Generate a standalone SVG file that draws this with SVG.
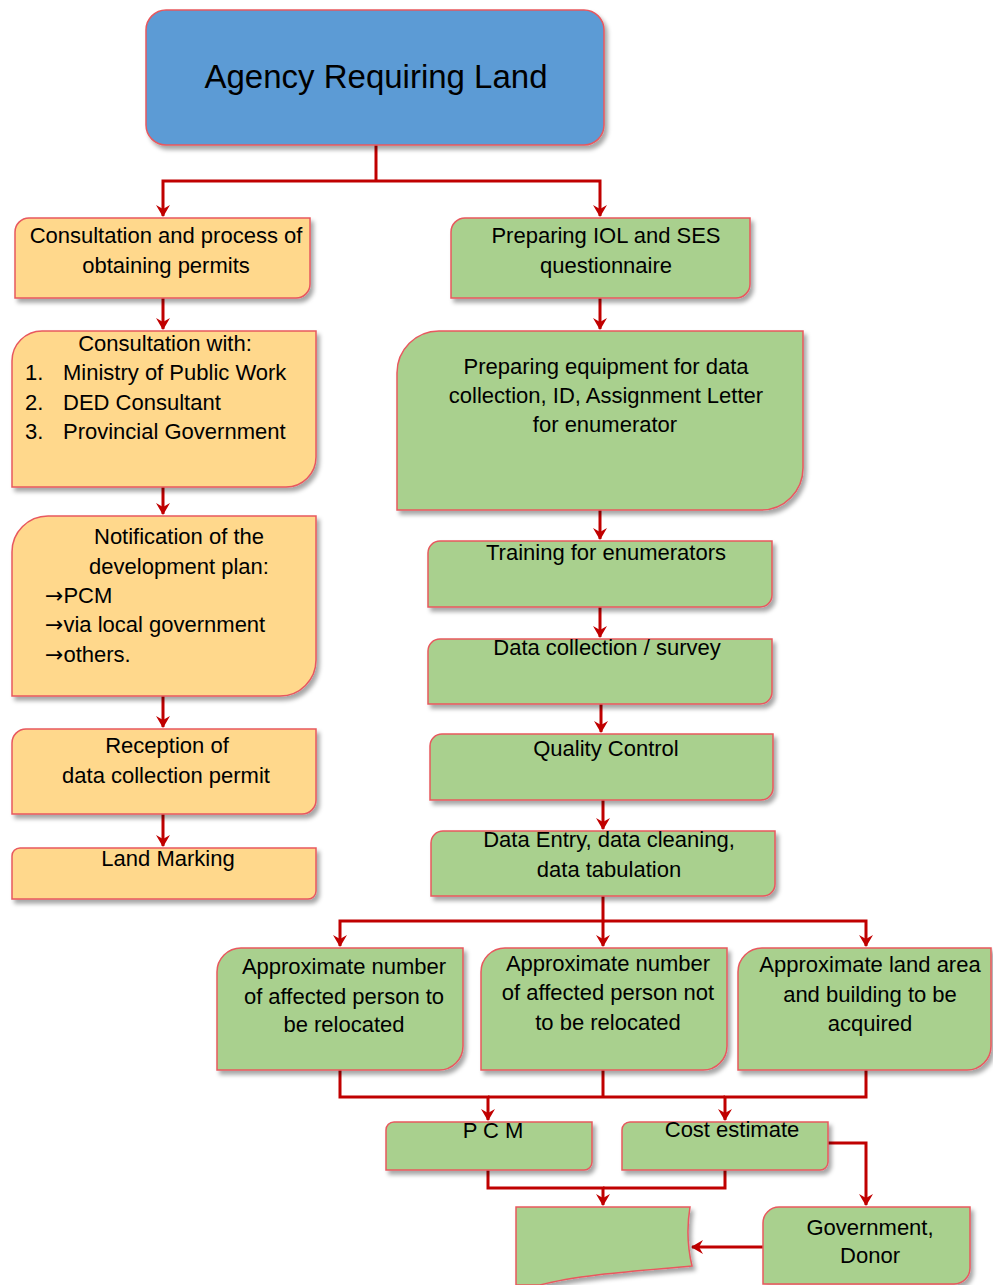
<svg xmlns="http://www.w3.org/2000/svg" width="993" height="1285" viewBox="0 0 993 1285">
<style>
.bx{stroke:#E8585E;stroke-width:1.5;filter:url(#sh)}
.or{fill:#FFD88C}
.gr{fill:#A9D08E}
.bl{fill:#5B9BD5}
text{font-family:"Liberation Sans",Arial,sans-serif;font-size:22px;fill:#000}
.c{text-anchor:middle}
.n{font-size:22px}
.ar{font-family:"DejaVu Sans",sans-serif;font-size:22px}
.cn{stroke:#C00000;stroke-width:3;fill:none}
.a{marker-end:url(#ah)}
</style>
<defs>
<filter id="sh" x="-10%" y="-10%" width="120%" height="130%">
<feDropShadow dx="3" dy="4" stdDeviation="2" flood-color="#000" flood-opacity="0.35"/>
</filter>
<marker id="ah" markerWidth="16" markerHeight="16" refX="11" refY="8" orient="auto" markerUnits="userSpaceOnUse">
<path d="M0,1 L12,8 L0,15 L4,8 z" fill="#C00000"/>
</marker>
</defs>

<g id="connectors">
<path class="cn" d="M376 145 V181"/>
<path class="cn a" d="M376 181 H163 V216"/>
<path class="cn a" d="M376 181 H600 V216"/>
<path class="cn a" d="M163 298 V329"/>
<path class="cn a" d="M163 487 V514"/>
<path class="cn a" d="M163 696 V727"/>
<path class="cn a" d="M163 814 V846"/>
<path class="cn a" d="M600 298 V329"/>
<path class="cn a" d="M600 510 V539"/>
<path class="cn a" d="M600 607 V637"/>
<path class="cn a" d="M601 704 V732"/>
<path class="cn a" d="M603 800 V829"/>
<path class="cn a" d="M603 896 V921 H340 V946"/>
<path class="cn a" d="M603 921 V946"/>
<path class="cn a" d="M603 921 H866 V946"/>
<path class="cn a" d="M340 1070 V1097 H488 V1120"/>
<path class="cn" d="M603 1070 V1097"/>
<path class="cn a" d="M866 1070 V1097 H725 V1120"/>
<path class="cn" d="M488 1097 H725"/>
<path class="cn a" d="M488 1170 V1188 H603 V1205"/>
<path class="cn" d="M725 1170 V1188 H603"/>
<path class="cn a" d="M828 1143 H866 V1205"/>
<path class="cn a" d="M763 1247 H692"/>
</g>

<g id="agency">
<rect class="bx bl" x="146" y="10" width="458" height="135" rx="20"/>
<text class="c" x="376" y="88" style="font-size:33px">Agency Requiring Land</text>
</g>

<g id="consultation-process">
<path class="bx or" d="M29 218 H310 V284 A14 14 0 0 1 296 298 H15 V232 A14 14 0 0 1 29 218 Z"/>
<text class="c" x="166" y="243">Consultation and process of</text>
<text class="c" x="166" y="273">obtaining permits</text>
</g>

<g id="consultation-with">
<path class="bx or" d="M42 331 H316 V457 A30 30 0 0 1 286 487 H12 V361 A30 30 0 0 1 42 331 Z"/>
<text class="c" x="165" y="351">Consultation with:</text>
<text x="25" y="380">1.</text><text x="63" y="380">Ministry of Public Work</text>
<text x="25" y="410">2.</text><text x="63" y="410">DED Consultant</text>
<text x="25" y="439">3.</text><text x="63" y="439">Provincial Government</text>
</g>

<g id="notification">
<path class="bx or" d="M48 516 H316 V660 A36 36 0 0 1 280 696 H12 V552 A36 36 0 0 1 48 516 Z"/>
<text class="c" x="179" y="544">Notification of the</text>
<text class="c" x="179" y="574">development plan:</text>
<text x="45" y="603"><tspan class="ar">→</tspan>PCM</text>
<text x="45" y="632"><tspan class="ar">→</tspan>via local government</text>
<text x="45" y="662"><tspan class="ar">→</tspan>others.</text>
</g>

<g id="reception">
<path class="bx or" d="M26 729 H316 V800 A14 14 0 0 1 302 814 H12 V743 A14 14 0 0 1 26 729 Z"/>
<text class="c" x="167" y="753">Reception of</text>
<text class="c" x="166" y="783">data collection permit</text>
</g>

<g id="land-marking">
<path class="bx or" d="M20 848 H316 V891 A8 8 0 0 1 308 899 H12 V856 A8 8 0 0 1 20 848 Z"/>
<text class="c" x="168" y="866">Land Marking</text>
</g>

<g id="preparing-iol">
<path class="bx gr" d="M465 218 H750 V284 A14 14 0 0 1 736 298 H451 V232 A14 14 0 0 1 465 218 Z"/>
<text class="c" x="606" y="243">Preparing IOL and SES</text>
<text class="c" x="606" y="273">questionnaire</text>
</g>

<g id="preparing-equipment">
<path class="bx gr" d="M439 331 H803 V468 A42 42 0 0 1 761 510 H397 V373 A42 42 0 0 1 439 331 Z"/>
<text class="c" x="606" y="374">Preparing equipment for data</text>
<text class="c" x="606" y="403">collection, ID, Assignment Letter</text>
<text class="c" x="605" y="432">for enumerator</text>
</g>

<g id="training">
<path class="bx gr" d="M440 541 H772 V595 A12 12 0 0 1 760 607 H428 V553 A12 12 0 0 1 440 541 Z"/>
<text class="c" x="606" y="560">Training for enumerators</text>
</g>

<g id="data-collection">
<path class="bx gr" d="M440 639 H772 V692 A12 12 0 0 1 760 704 H428 V651 A12 12 0 0 1 440 639 Z"/>
<text class="c" x="607" y="655">Data collection / survey</text>
</g>

<g id="quality-control">
<path class="bx gr" d="M442 734 H773 V788 A12 12 0 0 1 761 800 H430 V746 A12 12 0 0 1 442 734 Z"/>
<text class="c" x="606" y="756">Quality Control</text>
</g>

<g id="data-entry">
<path class="bx gr" d="M443 831 H775 V884 A12 12 0 0 1 763 896 H431 V843 A12 12 0 0 1 443 831 Z"/>
<text class="c" x="609" y="847">Data Entry, data cleaning,</text>
<text class="c" x="609" y="877">data tabulation</text>
</g>

<g id="relocated">
<path class="bx gr" d="M241 948 H463 V1046 A24 24 0 0 1 439 1070 H217 V972 A24 24 0 0 1 241 948 Z"/>
<text class="c n" x="344" y="974">Approximate number</text>
<text class="c n" x="344" y="1004">of affected person to</text>
<text class="c n" x="344" y="1032">be relocated</text>
</g>

<g id="not-relocated">
<path class="bx gr" d="M505 948 H727 V1046 A24 24 0 0 1 703 1070 H481 V972 A24 24 0 0 1 505 948 Z"/>
<text class="c n" x="608" y="971">Approximate number</text>
<text class="c n" x="608" y="1000">of affected person not</text>
<text class="c n" x="608" y="1030">to be relocated</text>
</g>

<g id="land-area">
<path class="bx gr" d="M762 948 H991 V1046 A24 24 0 0 1 967 1070 H738 V972 A24 24 0 0 1 762 948 Z"/>
<text class="c n" x="870" y="972">Approximate land area</text>
<text class="c n" x="870" y="1002">and building to be</text>
<text class="c n" x="870" y="1031">acquired</text>
</g>

<g id="pcm">
<path class="bx gr" d="M394 1122 H592 V1162 A8 8 0 0 1 584 1170 H386 V1130 A8 8 0 0 1 394 1122 Z"/>
<text class="c" x="493" y="1138">P C M</text>
</g>

<g id="cost-estimate">
<path class="bx gr" d="M630 1122 H828 V1162 A8 8 0 0 1 820 1170 H622 V1130 A8 8 0 0 1 630 1122 Z"/>
<text class="c" x="732" y="1137">Cost estimate</text>
</g>

<g id="blank-document">
<path class="bx gr" d="M516 1207 H690 C687 1225 687 1245 692 1266 C650 1270 580 1274 540 1285 H516 Z"/>
</g>

<g id="government-donor">
<path class="bx gr" d="M779 1207 H970 V1268 A16 16 0 0 1 954 1284 H763 V1223 A16 16 0 0 1 779 1207 Z"/>
<text class="c" x="870" y="1235">Government,</text>
<text class="c" x="870" y="1263">Donor</text>
</g>
</svg>
